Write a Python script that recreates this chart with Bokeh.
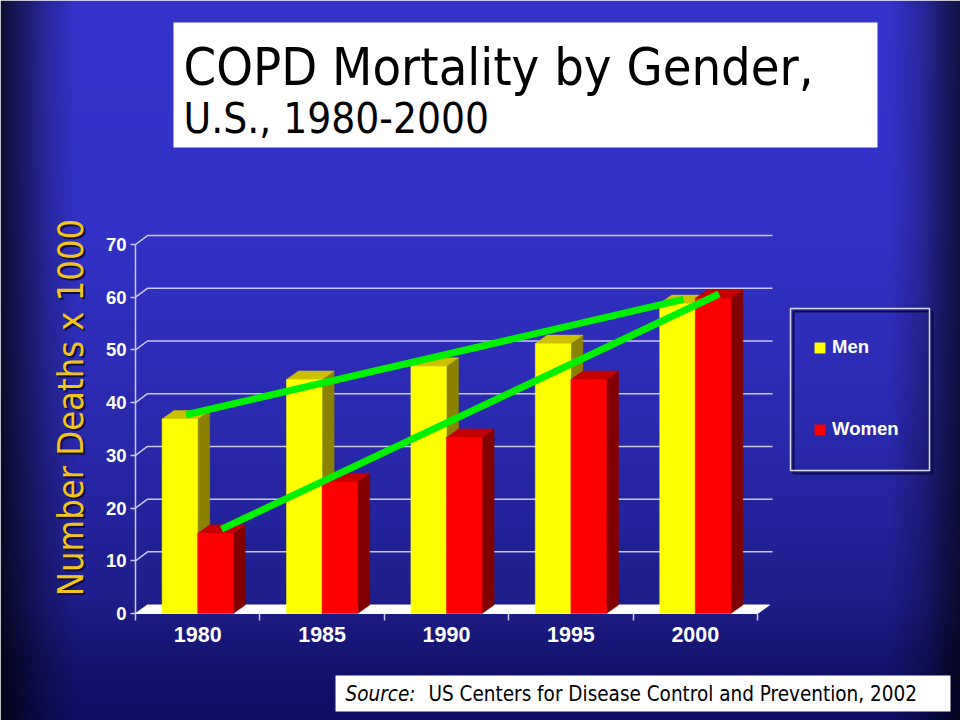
import numpy as np
from bokeh.plotting import figure
from bokeh.models import Range1d, LinearAxis, FixedTicker, Legend, LegendItem, ColumnDataSource
from bokeh.core.properties import value
from bokeh.embed import file_html
from bokeh.resources import INLINE

# ---------------- data ----------------
years = ["1980", "1985", "1990", "1995", "2000"]
men = [36.9, 44.4, 46.9, 51.2, 58.8]
women = [15.2, 25.0, 33.4, 44.4, 59.8]
y_ticks = [0, 10, 20, 30, 40, 50, 60, 70]
series_names = ["Men", "Women"]
y_label = "Number Deaths x 1000"
title_1 = "COPD Mortality by Gender,"
title_2 = "U.S., 1980-2000"
source_lead = "Source:"
source_text = "US Centers for Disease Control and Prevention, 2002"

# ---------------- geometry ----------------
W, H = 960, 720
X0, PXU = 135.0, 124.4      # pixel of x=0, pixels per category
Y0, PYU = 613.0, 5.2714     # pixel of y=0, pixels per unit


def X(px):
    return (px - X0) / PXU


def Y(py):
    return (Y0 - py) / PYU


DX = 12.0 / PXU
DY = 8.5 / PYU
BW = 0.286
GRID = "#c8c8ee"
COND = "DejaVu Sans Condensed"

p = figure(width=W, height=H, x_range=Range1d(X(0), X(W)), y_range=Range1d(Y(H), Y(0)),
           output_backend="svg", toolbar_location=None, x_axis_location=None,
           y_axis_location=None, min_border=0, outline_line_color=None, title=None)
p.grid.visible = False

# ---------------- background gradient ----------------
ny, nx = 180, 240
py = np.linspace(0, H, ny)
px = np.linspace(0, W, nx)
stops = [0, 220, 420, 600, 660, 720]
rv = [52, 50, 42, 30, 20, 14]
bv = [205, 200, 175, 140, 112, 100]
r_col = np.interp(py, stops, rv)[:, None]
b_col = np.interp(py, stops, bv)[:, None]
fx = np.interp(px, [0, 20, 45, 75, 890, 925, 945, 960], [0.28, 0.5, 0.78, 1.0, 1.0, 0.75, 0.5, 0.35])[None, :]
R = np.clip(r_col * fx, 0, 255).astype(np.uint32)
B = np.clip(b_col * fx, 0, 255).astype(np.uint32)
img = (255 << 24) | (B << 16) | (R << 8) | R
img = img[::-1, :].astype(np.uint32)
p.image_rgba(image=[img], x=X(0), y=Y(H), dw=X(W) - X(0), dh=Y(0) - Y(H))

# ---------------- 3D wall gridlines and floor ----------------
x_right = X(772)
gx = [[0, DX, x_right] for v in y_ticks[1:]]
gy = [[v, v + DY * 1.05, v + DY * 1.05] for v in y_ticks[1:]]
p.multi_line(gx, gy, line_color=GRID, line_width=1.5)
n = len(years)
p.patch([0, n, n + DX, DX], [0, 0, DY, DY], fill_color="white", line_color="white", line_width=1)

# ---------------- bars ----------------
centers = np.arange(n) + 0.5


def bar3d(vals, offset, front, side, top):
    left = centers + offset
    right = left + BW
    vals = np.asarray(vals, dtype=float)
    src = ColumnDataSource(dict(left=left, right=right, top=vals, bottom=np.zeros(n)))
    side_xs = [[r, r + DX, r + DX, r] for r in right]
    side_ys = [[0, DY, v + DY, v] for v in vals]
    top_xs = [[l, r, r + DX, l + DX] for l, r in zip(left, right)]
    top_ys = [[v, v, v + DY, v + DY] for v in vals]
    p.patches(side_xs, side_ys, fill_color=side, line_color=side, line_width=0.5)
    p.patches(top_xs, top_ys, fill_color=top, line_color=top, line_width=0.5)
    return p.quad(left="left", right="right", top="top", bottom="bottom", source=src,
                  fill_color=front, line_color=front, line_width=0.5)


r_men = bar3d(men, -BW, "#ffff00", "#8a8200", "#ccc000")
r_women = bar3d(women, 0.0, "#ff0000", "#820000", "#c40000")

# ---------------- trend lines ----------------
mx = [centers[0] - BW / 2 + DX / 2, centers[-1] - BW / 2 + DX / 2]
my = [men[0] + DY / 2, men[-1] + DY / 2]
wx = [centers[0] + BW / 2 + DX / 2, centers[-1] + BW / 2 + DX / 2]
wy = [women[0] + DY / 2, women[-1] + DY / 2]
p.line(mx, my, line_color="#00f000", line_width=7)
p.line(wx, wy, line_color="#00f000", line_width=7)

# ---------------- axes ----------------
yax = LinearAxis(fixed_location=0, ticker=FixedTicker(ticks=y_ticks), bounds=(0, 70),
                 axis_line_color=GRID, axis_line_width=1.5,
                 major_tick_line_color=GRID, major_tick_line_width=1.5,
                 major_tick_out=5, major_tick_in=0, minor_tick_out=0, minor_tick_in=0,
                 major_label_text_color="white", major_label_text_font="Liberation Sans",
                 major_label_text_font_size="18.5px", major_label_text_font_style="bold",
                 major_label_standoff=4)
p.add_layout(yax, "left")

xax_ticks = LinearAxis(fixed_location=0, ticker=FixedTicker(ticks=list(range(n + 1))), bounds=(0, n),
                       axis_line_alpha=0, major_tick_line_color=GRID, major_tick_line_width=1.5,
                       major_tick_out=7, major_tick_in=0, minor_tick_out=0, minor_tick_in=0,
                       major_label_overrides={i: "" for i in range(n + 1)})
p.add_layout(xax_ticks, "below")

xax = LinearAxis(fixed_location=0, ticker=FixedTicker(ticks=list(centers)),
                 axis_line_alpha=0, major_tick_out=0, major_tick_in=0,
                 minor_tick_out=0, minor_tick_in=0,
                 major_label_overrides={float(c): y for c, y in zip(centers, years)},
                 major_label_text_color="white", major_label_text_font="Liberation Sans",
                 major_label_text_font_size="21.5px", major_label_text_font_style="bold",
                 major_label_standoff=13)
p.add_layout(xax, "below")

# ---------------- y label ----------------
p.text(x=[X(70)], y=[Y(407)], text=[y_label], angle=np.pi / 2, x_offset=2, y_offset=2,
       text_align="center", text_baseline="middle", text_color="#101040",
       text_font=value(COND), text_font_size="36px")
p.text(x=[X(70)], y=[Y(407)], text=[y_label], angle=np.pi / 2,
       text_align="center", text_baseline="middle", text_color="#f4c41c",
       text_font=value(COND), text_font_size="36px")

# ---------------- title box ----------------
p.quad(left=X(173), right=X(877), top=Y(22), bottom=Y(147), fill_color="white", line_color=None)
p.text(x=[X(183)], y=[Y(66)], text=[title_1], text_color="black", text_baseline="middle",
       text_font=value(COND), text_font_size="52px")
p.text(x=[X(183)], y=[Y(118)], text=[title_2], text_color="black", text_baseline="middle",
       text_font=value(COND), text_font_size="42px")

# ---------------- source box ----------------
p.quad(left=X(335), right=X(950), top=Y(675), bottom=Y(711), fill_color="white", line_color=None)
p.text(x=[X(345)], y=[Y(693)], text=[source_lead], text_color="black", text_baseline="middle",
       text_font=value(COND), text_font_size="20.5px", text_font_style="italic")
p.text(x=[X(428)], y=[Y(693)], text=[source_text], text_color="black", text_baseline="middle",
       text_font=value(COND), text_font_size="20.5px")

# ---------------- legend ----------------
p.quad(left=X(793), right=X(932), top=Y(311), bottom=Y(473), fill_alpha=0,
       line_color="#0c0c48", line_width=2)
p.quad(left=X(790), right=X(929), top=Y(308), bottom=Y(470), fill_alpha=0,
       line_color="#d8d8f4", line_width=1.5)
legend = Legend(items=[LegendItem(label=series_names[0], renderers=[r_men]),
                       LegendItem(label=series_names[1], renderers=[r_women])],
                location=(813, H - 440), padding=0, margin=0, spacing=60,
                glyph_width=13, glyph_height=13, label_height=13, label_standoff=6,
                background_fill_alpha=0, border_line_alpha=0,
                label_text_color="white", label_text_font="Liberation Sans",
                label_text_font_size="18.5px", label_text_font_style="bold")
p.add_layout(legend)

open("out.html", "w").write(file_html(p, INLINE))
